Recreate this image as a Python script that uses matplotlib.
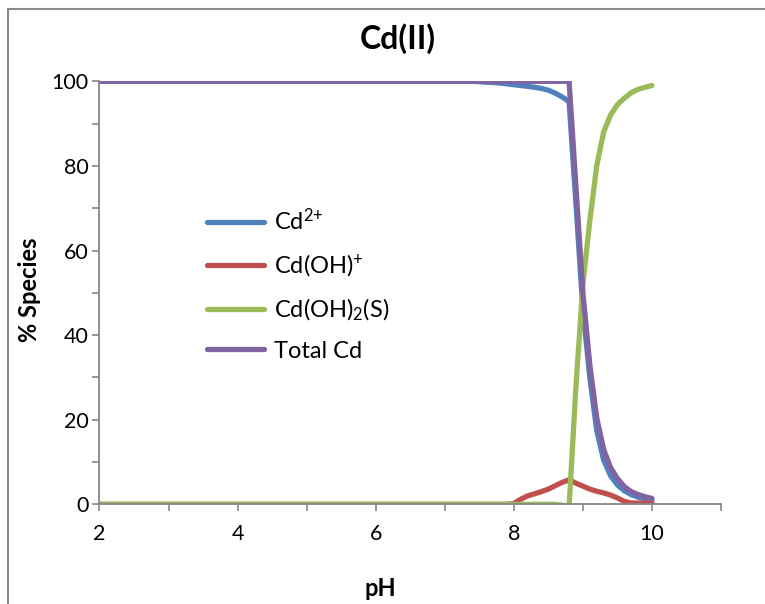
import matplotlib
matplotlib.use("Agg")
import matplotlib.pyplot as plt
from matplotlib.patches import Rectangle
from matplotlib.ticker import MultipleLocator

plt.rcParams['font.family'] = ['Lato', 'DejaVu Sans']
plt.rcParams['mathtext.fontset'] = 'custom'
plt.rcParams['mathtext.rm'] = 'Lato'
plt.rcParams['mathtext.it'] = 'Lato'

# values
ph = [2, 3, 4, 5, 6, 7, 7.4, 7.6, 7.8, 7.9, 8.0, 8.1, 8.2, 8.3, 8.4, 8.5,
      8.6, 8.7, 8.8, 8.9, 9.0, 9.1, 9.2, 9.3, 9.4, 9.5, 9.6, 9.7, 9.8, 9.9, 10.0]
cd2 = [100, 100, 100, 100, 100, 100, 100, 99.8, 99.6, 99.4, 99.2, 99.0, 98.8,
       98.6, 98.3, 97.9, 97.2, 96.3, 95.2, 71, 46, 30, 17.5, 10.5, 6.8, 4.6,
       3.2, 2.3, 1.7, 1.3, 1.1]
cdoh = [0, 0, 0, 0, 0, 0, 0, 0, 0, 0, 0.2, 1.2, 2.0, 2.5, 3.0, 3.6, 4.4, 5.2,
        5.8, 5.0, 4.3, 3.6, 3.1, 2.7, 2.2, 1.5, 0.7, 0.3, 0.3, 0.3, 0.3]
cdoh2 = [0, 0, 0, 0, 0, 0, 0, 0, 0, 0, 0, 0, 0, 0, 0, 0, 0, -0.2, -0.6, 28,
         52, 67, 80, 88, 92, 94.5, 96, 97.3, 98.1, 98.6, 99.0]
total = [100, 100, 100, 100, 100, 100, 100, 100, 100, 100, 100, 100, 100, 100,
         100, 100, 100, 100, 100, 75, 50, 33, 20.5, 13, 8.7, 6.1, 4.2, 3.0, 2.3,
         1.8, 1.4]

labels = [r'Cd$^{\text{2+}}$', 'Cd(OH)$^{+}$', 'Cd(OH)$_{2}$(S)', 'Total Cd']
colors = ['#4F81BD', '#C0504D', '#9BBB59', '#8064A2']

fig = plt.figure(figsize=(7.65, 6.04), dpi=100)
ax = fig.add_axes([0.130, 0.165, 0.8125, 0.7004])

for ys, lab, c in zip([cd2, cdoh, cdoh2, total], labels, colors):
    ax.plot(ph, ys, color=c, lw=3.8, label=lab, solid_capstyle='round',
            solid_joinstyle='round')

ax.set_xlim(2, 11)
ax.set_ylim(0, 100)
ax.xaxis.set_major_locator(MultipleLocator(2))
ax.xaxis.set_minor_locator(MultipleLocator(1))
ax.yaxis.set_major_locator(MultipleLocator(20))
ax.yaxis.set_minor_locator(MultipleLocator(10))

for s in ['top', 'right']:
    ax.spines[s].set_visible(False)
for s in ['left', 'bottom']:
    ax.spines[s].set_color('#868686')
    ax.spines[s].set_linewidth(1.3)
ax.tick_params(which='both', direction='out', length=5, width=1.2,
               color='#868686', labelsize=15.5)
ax.tick_params(axis='x', pad=9)
ax.tick_params(axis='y', pad=3)

fig.text(0.52, 0.936, 'Cd(II)', ha='center', va='center', fontsize=23,
         fontweight='bold')
fig.text(0.497, 0.026, 'pH', ha='center', va='center', fontsize=17,
         fontweight='bold')
fig.text(0.039, 0.52, '% Species', ha='center', va='center', fontsize=17,
         fontweight='bold', rotation=90)

ax.legend(loc='upper left', bbox_to_anchor=(0.2555, 0.676), bbox_transform=fig.transFigure,
          frameon=False, fontsize=17, handlelength=2.4, handletextpad=0.42,
          labelspacing=0.76, borderpad=0)

fig.patches.append(Rectangle((8 / 765, -0.1), 1.2, 1.1 - 9 / 604,
                             transform=fig.transFigure, fill=False,
                             edgecolor='#898989', lw=1.5))

fig.savefig('out.png', dpi=100)
